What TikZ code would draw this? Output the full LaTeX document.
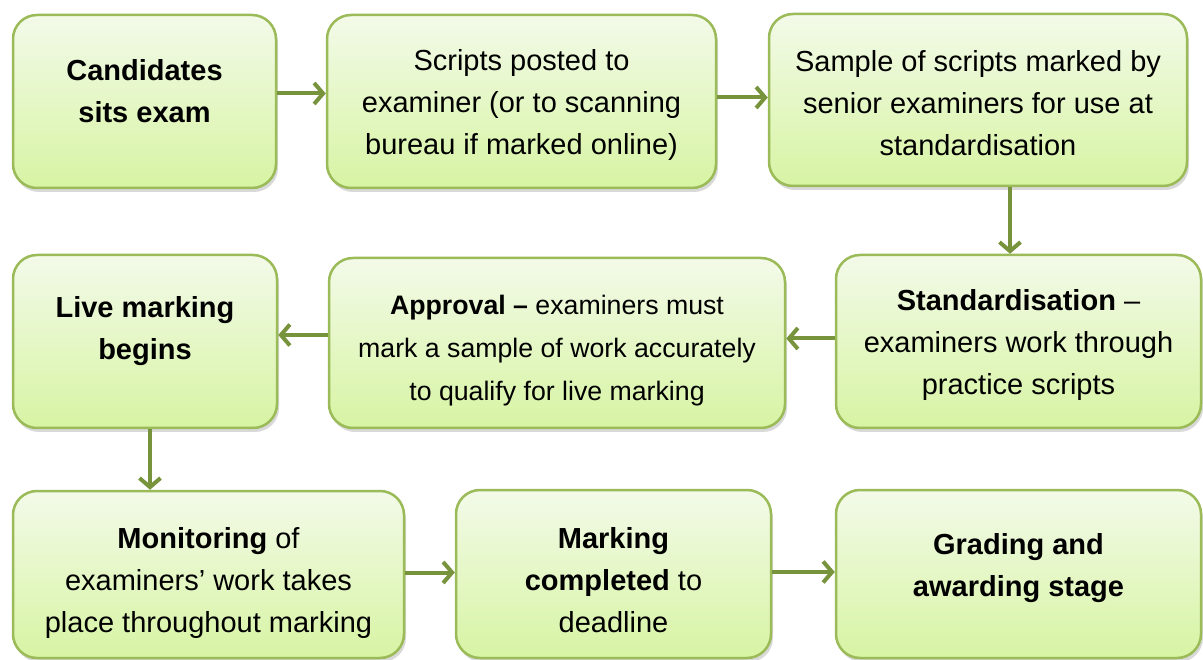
\documentclass[tikz,border=0pt]{standalone}
\usepackage{fontspec}
\setmainfont{Liberation Sans}
\usetikzlibrary{%
		arrows.meta%
		,shadows%
	}
\definecolor{boxline}{RGB}{155,187,89}
\definecolor{boxtop}{RGB}{243,250,233}
\definecolor{boxbottom}{RGB}{215,244,163}
\definecolor{arrowgreen}{RGB}{119,147,60}
\newcommand{\topgap}[1]{\rule{0pt}{#1}}
\tikzset{%
	stage/.style={draw=boxline, line width=2.5pt, rounded corners=24pt,
		top color=boxtop, bottom color=boxbottom, align=center, inner sep=0pt,
		font=\fontsize{29}{42}\selectfont, text depth=0pt,
		drop shadow={shadow xshift=2pt, shadow yshift=-4pt, opacity=0.3}},
	link/.style={draw=arrowgreen, line width=4pt, -{Straight Barb[length=9pt,width=21pt]}}
}

\begin{document}
\begin{tikzpicture}[x=1pt,y=-1pt]
			\useasboundingbox (0,0) rectangle (1203,660);
			% first row
			\node[stage, text depth=22pt, minimum width=263pt, minimum height=173pt] (exam) at (144.5,101.5) {\textbf{Candidates}\\\textbf{sits exam}};
			\node[stage, minimum width=389pt, minimum height=173pt] (posted) at (521.5,101.5) {Scripts posted to\\examiner (or to scanning\\bureau if marked online)};
			\node[stage, minimum width=418pt, minimum height=172pt] (sample) at (978,100) {\topgap{28pt}Sample of scripts marked by\\senior examiners for use at\\standardisation};
			% second row
			\node[stage, text depth=28pt, minimum width=264pt, minimum height=173pt] (live) at (145,341.5) {\textbf{Live marking}\\\textbf{begins}};
			\node[stage, minimum width=456pt, minimum height=170pt, font=\fontsize{26.7}{43}\selectfont] (approval) at (557,343) {\topgap{29pt}\textbf{Approval –} examiners must\\mark a sample of work accurately\\to qualify for live marking};
			\node[stage, minimum width=365pt, minimum height=173pt] (standard) at (1018.5,341.5) {\textbf{Standardisation} –\\examiners work through\\practice scripts};
			% third row
			\node[stage, minimum width=391pt, minimum height=167pt] (monitor) at (208.5,574.5) {\topgap{32pt}\textbf{Monitoring} of\\examiners’ work takes\\place throughout marking};
			\node[stage, minimum width=315pt, minimum height=168pt] (done) at (613.5,574) {\topgap{32pt}\textbf{Marking}\\\textbf{completed} to\\deadline};
			\node[stage, text depth=18pt, minimum width=365pt, minimum height=168pt] (grading) at (1018.5,574) {\textbf{Grading and}\\\textbf{awarding stage}};

			\draw[link] ([yshift=8pt]exam.east) -- ([yshift=8pt]exam.east -| posted.west);
			\draw[link] ([yshift=4pt]posted.east) -- ([yshift=4pt]posted.east -| sample.west);
			\draw[link] ([xshift=32pt]sample.south) -- ([xshift=32pt]sample.south |- standard.north);
			\draw[link] ([yshift=3pt]standard.west) -- ([yshift=3pt]standard.west -| approval.east);
			\draw[link] ([yshift=8pt]approval.west) -- ([yshift=8pt]approval.west -| live.east);
			\draw[link] ([xshift=5pt]live.south) -- ([xshift=5pt]live.south |- monitor.north);
			\draw[link] ([yshift=2pt]monitor.east) -- ([yshift=2pt]monitor.east -| done.west);
			\draw[link] ([yshift=2pt]done.east) -- ([yshift=2pt]done.east -| grading.west);
		\end{tikzpicture}
\end{document}
